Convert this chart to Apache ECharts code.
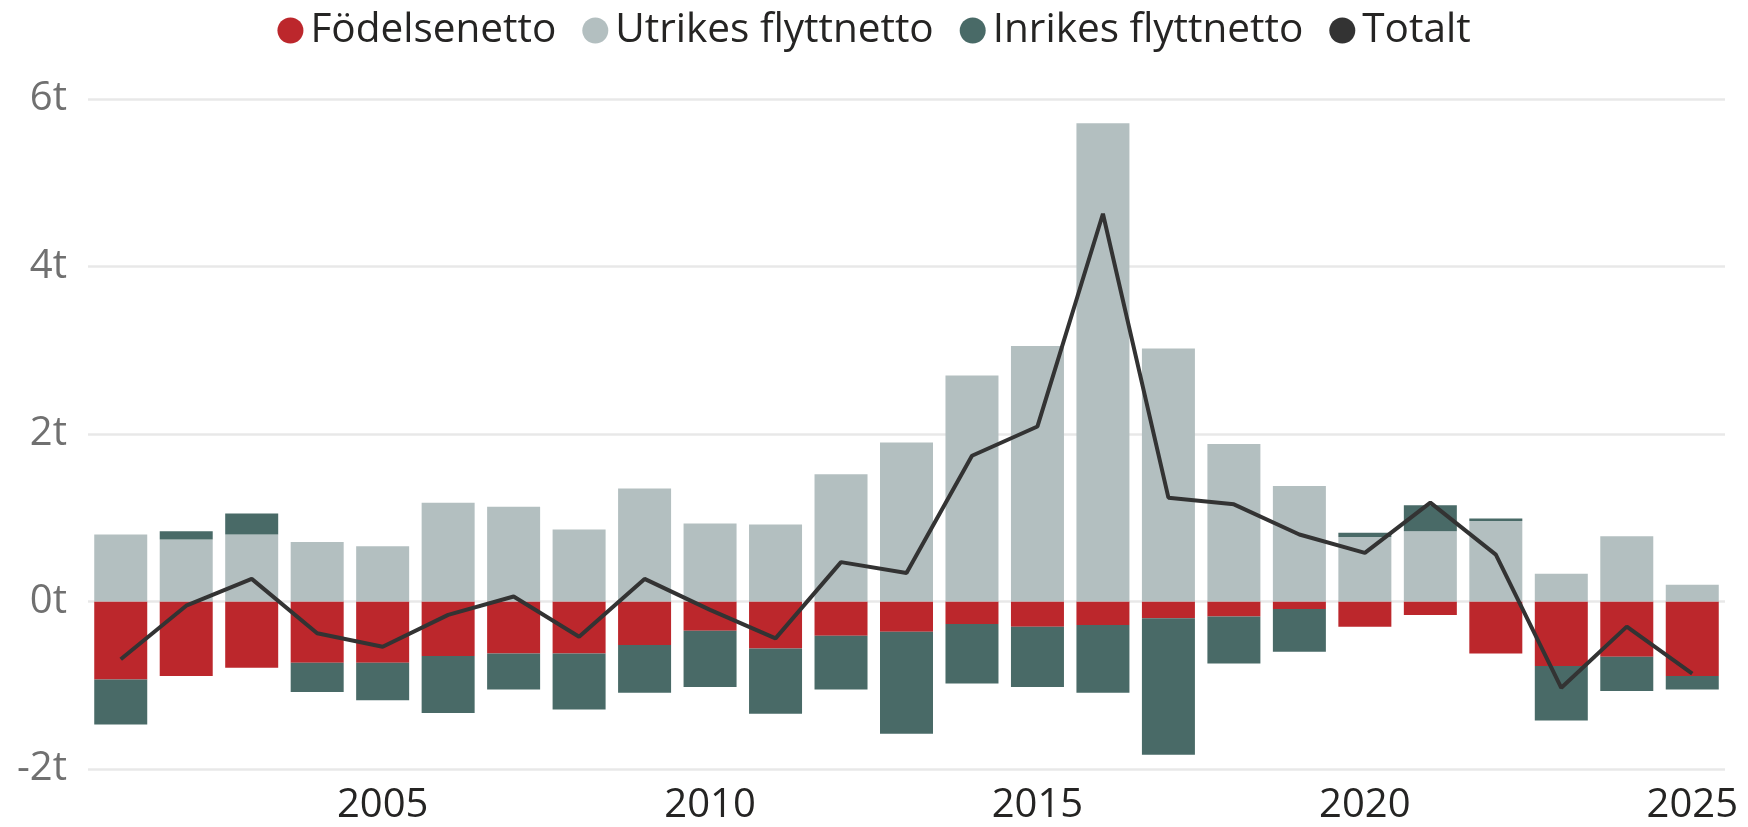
<!DOCTYPE html>
<html>
<head>
<meta charset="utf-8">
<script src="https://cdn.jsdelivr.net/npm/echarts@6/dist/echarts.min.js"></script>
<style>
  html, body { margin: 0; padding: 0; background: #fff; }
  #chart { width: 1748px; height: 827px; }
</style>
</head>
<body>
<div id="chart"></div>
<script>
// år
var years = ['2001','2002','2003','2004','2005','2006','2007','2008','2009','2010',
             '2011','2012','2013','2014','2015','2016','2017','2018','2019','2020',
             '2021','2022','2023','2024','2025'];

// antal personer per år
var fodelsenetto = [-930,-890,-790,-730,-730,-650,-620,-620,-520,-350,
                    -560,-410,-360,-270,-300,-280,-200,-180,-90,-300,
                    -160,-620,-770,-660,-890];
var utrikesFlyttnetto = [800,740,800,710,660,1180,1130,860,1350,930,
                         920,1520,1900,2700,3050,5710,3020,1880,1380,770,
                         840,960,330,780,200];
var inrikesFlyttnetto = [-540,100,250,-350,-450,-680,-430,-670,-570,-670,
                         -780,-640,-1220,-710,-720,-810,-1630,-560,-510,50,
                         310,30,-650,-410,-160];
var totalt = [-690,-50,270,-380,-540,-160,60,-420,270,-100,
              -440,470,340,1740,2090,4630,1240,1160,800,580,
              1180,560,-1030,-300,-860];

// axelns skala
var yMin = -2000, yMax = 6000, yStep = 2000;

var myChart = echarts.init(document.getElementById('chart'));

var fontFam = '"Open Sans", "Noto Sans", sans-serif';

var option = {
    animation: false,
    textStyle: { fontFamily: fontFam },
    legend: {
        top: 5,
        left: 'center',
        itemWidth: 26,
        itemHeight: 26,
        itemGap: 26,
        icon: 'circle',
        textStyle: { fontSize: 40.5, color: '#252423', fontFamily: fontFam, padding: [0, 0, 0, 2] },
        data: ['Födelsenetto', 'Utrikes flyttnetto', 'Inrikes flyttnetto', 'Totalt']
    },
    grid: {
        left: 88,
        right: 23,
        top: 99,
        bottom: 58
    },
    xAxis: {
        type: 'category',
        data: years,
        axisLine: { show: false },
        axisTick: { show: false },
        axisLabel: {
            fontSize: 40,
            color: '#252423',
            margin: 17,
            interval: function (i, v) { return Number(v) % 5 === 0; }
        }
    },
    yAxis: {
        type: 'value',
        min: yMin,
        max: yMax,
        interval: yStep,
        axisLine: { show: false },
        axisTick: { show: false },
        axisLabel: {
            fontSize: 40,
            color: '#707070',
            margin: 21,
            formatter: function (v) { return (v / 1000) + 't'; }
        },
        splitLine: { lineStyle: { color: '#e8e8e8', width: 2.5 } }
    },
    series: [
        {
            name: 'Födelsenetto',
            type: 'bar',
            stack: 'netto',
            barWidth: 53,
            itemStyle: { color: '#bc272c' },
            data: fodelsenetto
        },
        {
            name: 'Utrikes flyttnetto',
            type: 'bar',
            stack: 'netto',
            barWidth: 53,
            itemStyle: { color: '#b3bfc0' },
            data: utrikesFlyttnetto
        },
        {
            name: 'Inrikes flyttnetto',
            type: 'bar',
            stack: 'netto',
            barWidth: 53,
            itemStyle: { color: '#496a67' },
            data: inrikesFlyttnetto
        },
        {
            name: 'Totalt',
            type: 'line',
            symbol: 'none',
            z: 5,
            itemStyle: { color: '#333333' },
            lineStyle: { color: '#333333', width: 4 },
            data: totalt
        }
    ]
};

myChart.setOption(option);
</script>
</body>
</html>
